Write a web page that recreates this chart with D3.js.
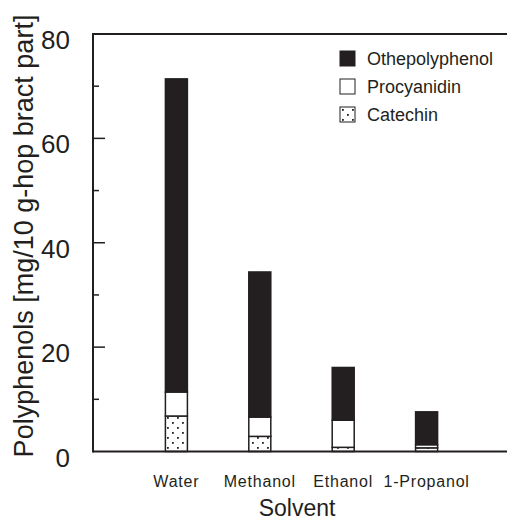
<!DOCTYPE html>
<html>
<head>
<meta charset="utf-8">
<script src="https://cdn.jsdelivr.net/npm/d3@7"></script>
<style>
  body { margin: 0; background: #fff; }
  text { font-family: "Liberation Sans", Arial, Helvetica, sans-serif; fill: #231f20; }
</style>
</head>
<body>
<div id="chart"></div>
<script>
// values, mg / 10 g hop bract part
var solvents = ["Water", "Methanol", "Ethanol", "1-Propanol"];
var catechin = [6.8, 2.9, 0.8, 0.7];
var procyanidin = [4.6, 3.7, 5.2, 0.6];
var otherPolyphenol = [60.0, 27.8, 10.1, 6.3];
var seriesNames = ["Othepolyphenol", "Procyanidin", "Catechin"];
var yTicks = [0, 20, 40, 60, 80];
var yMinorTicks = [10, 30, 50, 70];

var width = 507, height = 522;
var margin = {top: 34, right: 0, bottom: 70, left: 93};
var ink = "#231f20";

var svg = d3.select("#chart").append("svg")
	.attr("width", width)
	.attr("height", height);

// sparse dotted fill for catechin
var pat = svg.append("defs").append("pattern")
	.attr("id", "dots")
	.attr("patternUnits", "userSpaceOnUse")
	.attr("width", 10)
	.attr("height", 10);
pat.append("rect").attr("width", 10).attr("height", 10).attr("fill", "#fff");
pat.append("rect").attr("x", 2).attr("y", 2).attr("width", 1.8).attr("height", 1.8).attr("fill", ink);
pat.append("rect").attr("x", 7).attr("y", 7).attr("width", 1.8).attr("height", 1.8).attr("fill", ink);

var y = d3.scaleLinear()
	.domain([0, 80])
	.range([height - margin.bottom - 0.5, margin.top]);

var x = d3.scalePoint()
	.domain(solvents)
	.range([margin.left, margin.left + 417])
	.padding(1);

var barW = 22;

// stack the three parts: catechin at the bottom, then procyanidin, then the rest
var rows = solvents.map(function(s, i) {
	return {solvent: s, catechin: catechin[i], procyanidin: procyanidin[i], other: otherPolyphenol[i]};
});
var stack = d3.stack().keys(["catechin", "procyanidin", "other"])(rows);
var fills = {catechin: "url(#dots)", procyanidin: "#fff", other: ink};

var layer = svg.selectAll(".layer")
	.data(stack)
	.enter().append("g")
	.attr("class", "layer")
	.attr("fill", function(d) { return fills[d.key]; });

layer.selectAll("rect")
	.data(function(d) { return d; })
	.enter().append("rect")
	.attr("x", function(d) { return x(d.data.solvent) - barW / 2; })
	.attr("y", function(d) { return y(d[1]); })
	.attr("width", barW)
	.attr("height", function(d) { return y(d[0]) - y(d[1]); })
	.attr("stroke", ink)
	.attr("stroke-width", 1.5);

// frame: left, top and bottom lines
var x0 = margin.left, yTop = y(80), yBot = y(0);
svg.append("line").attr("x1", x0).attr("x2", width).attr("y1", yTop).attr("y2", yTop)
	.attr("stroke", ink).attr("stroke-width", 2);
svg.append("line").attr("x1", x0).attr("x2", width).attr("y1", yBot).attr("y2", yBot)
	.attr("stroke", ink).attr("stroke-width", 2);
svg.append("line").attr("x1", x0).attr("x2", x0).attr("y1", yTop - 1).attr("y2", yBot + 1)
	.attr("stroke", ink).attr("stroke-width", 2);

// inward ticks
svg.selectAll(".major")
	.data(yTicks.slice(1, 4))
	.enter().append("line")
	.attr("x1", x0).attr("x2", x0 + 12)
	.attr("y1", function(d) { return y(d); })
	.attr("y2", function(d) { return y(d); })
	.attr("stroke", ink).attr("stroke-width", 1.5);
svg.selectAll(".minor")
	.data(yMinorTicks)
	.enter().append("line")
	.attr("x1", x0).attr("x2", x0 + 6)
	.attr("y1", function(d) { return y(d); })
	.attr("y2", function(d) { return y(d); })
	.attr("stroke", ink).attr("stroke-width", 1.5);

svg.selectAll(".ylab")
	.data(yTicks)
	.enter().append("text")
	.attr("x", x0 - 23)
	.attr("y", function(d) { return y(d) + 15; })
	.attr("text-anchor", "end")
	.style("font-size", "26px")
	.text(function(d) { return d; });

svg.selectAll(".xlab")
	.data(solvents)
	.enter().append("text")
	.attr("x", function(d) { return x(d); })
	.attr("y", 487)
	.attr("text-anchor", "middle")
	.style("font-size", "16px")
	.style("letter-spacing", "0.8px")
	.text(function(d) { return d; });

svg.append("text")
	.attr("x", 297)
	.attr("y", 516)
	.attr("text-anchor", "middle")
	.style("font-size", "23px")
	.text("Solvent");

svg.append("text")
	.attr("transform", "translate(33,236) rotate(-90)")
	.attr("text-anchor", "middle")
	.style("font-size", "27px")
	.text("Polyphenols [mg/10 g-hop bract part]");

// legend
var legFill = [ink, "#fff", "url(#dots)"];
var leg = svg.selectAll(".leg")
	.data(seriesNames)
	.enter().append("g")
	.attr("transform", function(d, i) { return "translate(340," + (51 + i * 28) + ")"; });
leg.append("rect")
	.attr("width", 15).attr("height", 15)
	.attr("fill", function(d, i) { return legFill[i]; })
	.attr("stroke", ink).attr("stroke-width", 1);
leg.append("text")
	.attr("x", 27)
	.attr("y", 14)
	.style("font-size", "18px")
	.text(function(d) { return d; });
</script>
</body>
</html>
